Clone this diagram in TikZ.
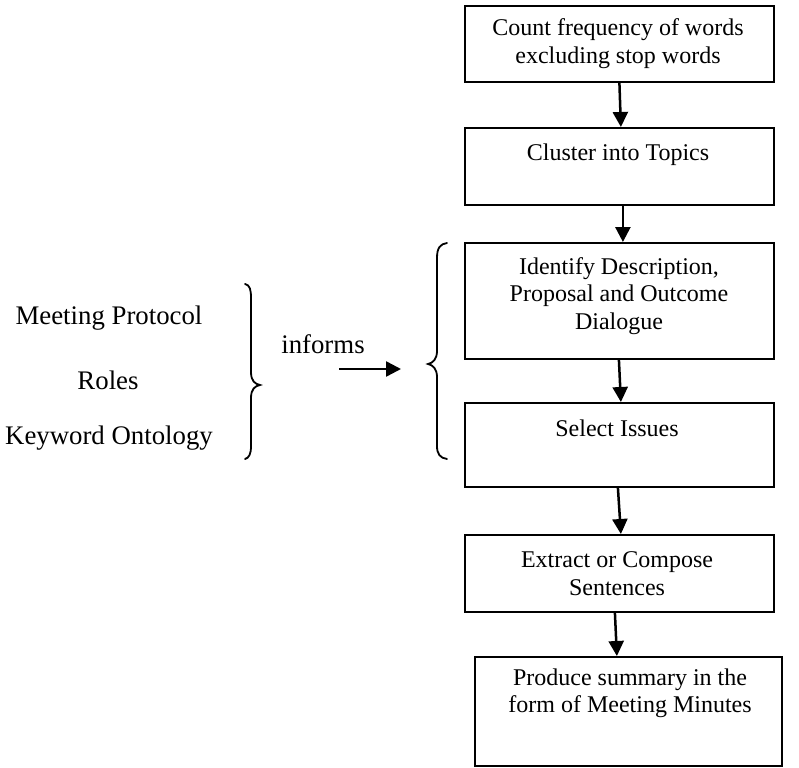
\documentclass[tikz,border=0pt]{standalone}
\usepackage{fontspec}
\setmainfont{Liberation Serif}
\usetikzlibrary{arrows.meta}
\begin{document}
\begin{tikzpicture}[x=1pt,y=-1pt,
  stepbox/.style={draw=black,line width=1.8pt,inner sep=0pt,anchor=north west},
  boxtext/.style={font=\fontsize{24}{27.5}\selectfont,align=center,inner sep=0pt},
  sidetext/.style={font=\fontsize{26.8}{30}\selectfont,inner sep=0pt},
  arr/.style={line width=2.5pt,-{Triangle[length=15pt,width=15pt]}},
  brace/.style={line width=1.8pt,line cap=round}]
\useasboundingbox (0,0) rectangle (799,767);
% boxes
\node[stepbox,minimum width=309pt,minimum height=76pt] (b1) at (464,5) {};
\node[stepbox,minimum width=309pt,minimum height=77pt] (b2) at (464,127) {};
\node[stepbox,minimum width=309pt,minimum height=116pt] (b3) at (464,242) {};
\node[stepbox,minimum width=309pt,minimum height=84pt] (b4) at (464,402) {};
\node[stepbox,minimum width=309pt,minimum height=77pt] (b5) at (464,534) {};
\node[stepbox,minimum width=307pt,minimum height=109pt] (b6) at (474,656) {};
% box texts
\node[boxtext] (t1) at (618,43.5) {Count frequency of words\\excluding stop words};
\node[boxtext] (t2) at (618,155) {Cluster into Topics};
\node[boxtext] (t3) at (619,296) {Identify Description,\\Proposal and Outcome\\Dialogue};
\node[boxtext] (t4) at (617,428) {Select Issues};
\node[boxtext] (t5) at (617,573.5) {Extract or Compose\\Sentences};
\node[boxtext] (t6) at (630,693.5) {Produce summary in the\\form of Meeting Minutes};
% arrows between boxes
\draw[arr] ([xshift=0pt]b1.south) -- ([xshift=1.5pt]b2.north);
\draw[arr] ([xshift=3.5pt]b2.south) -- ([xshift=3.5pt]b3.north);
\draw[arr] ([xshift=-0.5pt]b3.south) -- ([xshift=1.5pt]b4.north);
\draw[arr] ([xshift=-1.5pt]b4.south) -- ([xshift=1.5pt]b5.north);
\draw[arr] ([xshift=-4.5pt]b5.south) -- ([xshift=-11.5pt]b6.north);
% left texts
\node[sidetext] (mp) at (109,318) {Meeting Protocol};
\node[sidetext] (ro) at (108,380) {Roles};
\node[sidetext] (ko) at (109,438) {Keyword Ontology};
% informs
\node[sidetext] (inf) at (323,344) {informs};
\coordinate (ia) at (339,369);
\coordinate (ib) at (401,369);
\draw[arr] (ia) -- (ib);
% right brace (closing) for left group
\draw[brace] (245,284) .. controls (250,285) and (251,290) .. (251,298)
  -- (251,372) .. controls (251,381) and (255,384) .. (260,385)
  .. controls (255,386) and (251,389) .. (251,398)
  -- (251,446) .. controls (251,454) and (249,458) .. (245,459);
% left brace (opening) for right group
\draw[brace] (447,243) .. controls (440,244) and (437,248) .. (437,258)
  -- (437,351) .. controls (437,359) and (433,363) .. (428,364)
  .. controls (433,365) and (437,369) .. (437,377)
  -- (437,446) .. controls (437,454) and (440,458) .. (447,459);
\end{tikzpicture}
\end{document}
